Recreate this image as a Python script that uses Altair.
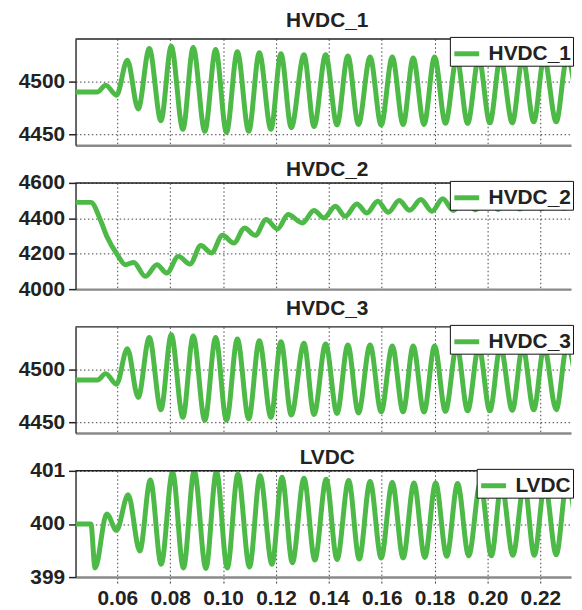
import altair as alt
import pandas as pd

GREEN = "#4DB947"
FONT = "Liberation Sans"

x_ticks = [0.06, 0.08, 0.10, 0.12, 0.14, 0.16, 0.18, 0.20, 0.22]
x_domain = [0.0442, 0.2316]

hvdc1_t = [0.0442, 0.0525, 0.0556, 0.0597, 0.0638, 0.0679, 0.0721, 0.0765, 0.0804, 0.0848,
           0.0887, 0.0931, 0.0972, 0.1013, 0.1054, 0.1097, 0.1137, 0.1181, 0.1219, 0.1258,
           0.1306, 0.1344, 0.1388, 0.1431, 0.1472, 0.1512, 0.1556, 0.1598, 0.1640, 0.1681,
           0.1719, 0.1760, 0.1800, 0.1841, 0.1884, 0.1925, 0.1967, 0.2009, 0.2049, 0.2094,
           0.2133, 0.2175, 0.2214, 0.2260, 0.2300, 0.2346]
hvdc1_v = [4490, 4490, 4496.5, 4487, 4520, 4474, 4531, 4463, 4533, 4455,
           4532, 4453, 4530, 4452, 4528, 4453, 4527, 4455, 4526, 4456.5,
           4525, 4457.5, 4525, 4459, 4524, 4459.5, 4523, 4459, 4523, 4459.5,
           4522, 4459.5, 4523, 4460.5, 4522, 4460.5, 4522, 4461, 4522, 4461,
           4522, 4462, 4522, 4462, 4521, 4464]

hvdc2_t = [0.0442, 0.0500, 0.0538, 0.0562, 0.0600, 0.0631, 0.0662, 0.0706, 0.0750, 0.0787,
           0.0831, 0.0875, 0.0916, 0.0956, 0.0998, 0.1041, 0.1081, 0.1122, 0.1163, 0.1206,
           0.1246, 0.1300, 0.1344, 0.1381, 0.1425, 0.1462, 0.1506, 0.1544, 0.1585, 0.1625,
           0.1666, 0.1706, 0.1748, 0.1790, 0.1831, 0.1871, 0.1915, 0.1955, 0.1997, 0.2040,
           0.2080, 0.2122, 0.2163, 0.2205, 0.2247, 0.2290, 0.2330, 0.2346]
hvdc2_v = [4490, 4490, 4383, 4293, 4195, 4138, 4151, 4072, 4138, 4091,
           4185, 4142, 4246, 4204, 4304, 4260, 4345, 4304, 4393, 4340,
           4421, 4374, 4444, 4402, 4468, 4411, 4481, 4430, 4496, 4434,
           4500, 4445, 4506, 4440, 4510, 4444, 4512, 4448, 4514, 4450,
           4515, 4452, 4516, 4454, 4517, 4455, 4518, 4505]

hvdc3_t = [0.0442, 0.0525, 0.0556, 0.0597, 0.0638, 0.0679, 0.0721, 0.0765, 0.0804, 0.0848,
           0.0887, 0.0931, 0.0972, 0.1013, 0.1054, 0.1097, 0.1137, 0.1181, 0.1219, 0.1258,
           0.1306, 0.1344, 0.1388, 0.1431, 0.1472, 0.1512, 0.1556, 0.1598, 0.1640, 0.1681,
           0.1719, 0.1760, 0.1800, 0.1841, 0.1884, 0.1925, 0.1967, 0.2009, 0.2049, 0.2094,
           0.2133, 0.2175, 0.2214, 0.2260, 0.2300, 0.2346]
hvdc3_v = [4490, 4490, 4496, 4486, 4519.5, 4473.5, 4530, 4462, 4532.5, 4455,
           4531.5, 4452, 4530, 4452, 4528.5, 4453.5, 4527, 4455, 4526, 4457,
           4524.5, 4457.5, 4524, 4458.5, 4523, 4459, 4523, 4460, 4522, 4460,
           4522, 4460, 4522, 4460.5, 4522, 4461, 4521.5, 4461, 4521.5, 4461.5,
           4521.5, 4462, 4521, 4462, 4521, 4469]

lvdc_t = [0.0442, 0.0500, 0.0516, 0.0560, 0.0597, 0.0641, 0.0685, 0.0725, 0.0766, 0.0809,
          0.0850, 0.0891, 0.0935, 0.0975, 0.1016, 0.1056, 0.1100, 0.1140, 0.1185, 0.1223,
          0.1262, 0.1306, 0.1347, 0.1390, 0.1431, 0.1475, 0.1515, 0.1556, 0.1598, 0.1640,
          0.1681, 0.1722, 0.1763, 0.1804, 0.1846, 0.1887, 0.1929, 0.1973, 0.2015, 0.2053,
          0.2096, 0.2139, 0.2177, 0.2217, 0.2260, 0.2300, 0.2346]
lvdc_v = [400.0, 400.0, 399.17, 400.19, 399.88, 400.55, 399.49, 400.83, 399.24, 400.98,
          399.17, 401.0, 399.16, 400.99, 399.17, 400.94, 399.19, 400.91, 399.24, 400.88,
          399.27, 400.86, 399.32, 400.84, 399.33, 400.82, 399.34, 400.80, 399.36, 400.78,
          399.36, 400.77, 399.37, 400.77, 399.39, 400.76, 399.40, 400.77, 399.40, 400.76,
          399.41, 400.76, 399.41, 400.76, 399.42, 400.76, 399.45]

W = 499
H = 107


def panel(name, t, v, ydom, yticks, show_x, title_offset):
    df = pd.DataFrame({"t": t, "v": v, "s": [name] * len(t)})
    if show_x:
        xaxis = alt.Axis(values=x_ticks, format=".2f", tickSize=7, tickColor="#333",
                         tickDash=[2, 2], labelPadding=4, grid=True, labelOverlap=False)
    else:
        xaxis = alt.Axis(values=x_ticks, labels=False, ticks=False, grid=True,
                         minExtent=0, maxExtent=0)
    yaxis = alt.Axis(values=yticks, format=".0f", tickSize=7, tickColor="#222", tickWidth=1.5,
                     labelPadding=4, minExtent=67, maxExtent=67, grid=True,
                     labelOverlap=False)
    line = alt.Chart(df).mark_line(strokeWidth=5, interpolate="monotone", clip=True).encode(
        x=alt.X("t:Q", scale=alt.Scale(domain=x_domain, nice=False, zero=False),
                axis=xaxis, title=None),
        y=alt.Y("v:Q", scale=alt.Scale(domain=ydom, nice=False, zero=False),
                axis=yaxis, title=None),
        color=alt.Color("s:N", scale=alt.Scale(domain=[name], range=[GREEN]),
                        legend=alt.Legend(title=None, orient="top-right", offset=-2,
                                          symbolType="stroke", symbolStrokeWidth=5,
                                          symbolSize=625, labelOffset=7, padding=2,
                                          fillColor="white", strokeColor="#111",
                                          labelFontSize=21, labelFont=FONT,
                                          labelFontWeight="bold", labelColor="#222",
                                          labelLimit=200)),
    )
    top = alt.Chart(pd.DataFrame({"a": [0]})).mark_rule(color="#222", strokeWidth=1.5).encode(
        x=alt.value(0), x2=alt.value(W), y=alt.value(0))
    return alt.layer(line, top).properties(
        width=W, height=H,
        title=alt.Title(name, fontSize=21, font=FONT, fontWeight="bold", color="#222",
                        frame="group", anchor="middle", offset=title_offset, dx=4))


p1 = panel("HVDC_1", hvdc1_t, hvdc1_v, [4440, 4540], [4450, 4500], False, 5)
p2 = panel("HVDC_2", hvdc2_t, hvdc2_v, [4000, 4600], [4000, 4200, 4400, 4600], False, -8)
p3 = panel("HVDC_3", hvdc3_t, hvdc3_v, [4440, 4540], [4450, 4500], False, 5)
p4 = panel("LVDC", lvdc_t, lvdc_v, [399, 401], [399, 400, 401], True, -8)

chart = alt.vconcat(p1, p2, p3, p4, spacing=38, bounds="flush").resolve_scale(
    color="independent", x="independent", y="independent"
).resolve_legend(color="independent").properties(
    padding={"left": 0, "top": 0, "right": 0, "bottom": -3}
).configure_view(stroke="transparent").configure_axis(
    labelFont=FONT, labelFontSize=21, labelFontWeight="bold", labelColor="#222",
    gridColor="#444", gridDash=[1.5, 2.5], gridWidth=1, gridOpacity=1,
).configure_axisX(
    domainColor="#8a8a8a", domainWidth=2.5
).configure_axisY(
    domainColor="#333", domainWidth=1.5
)

chart.save("out.html", embed_options={"renderer": "svg", "actions": False})
